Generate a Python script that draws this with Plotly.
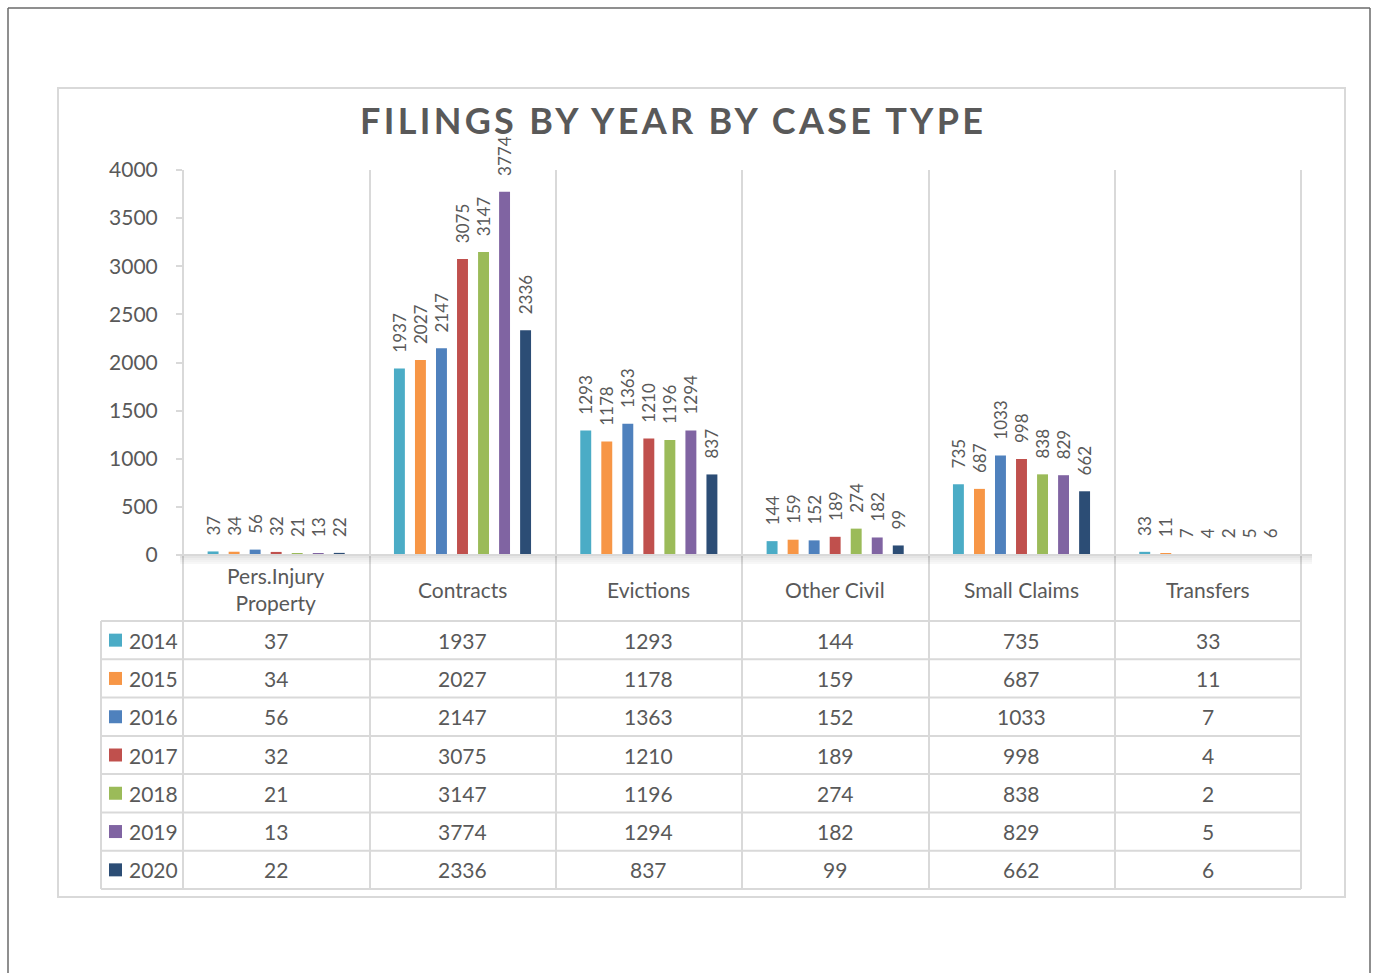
import plotly.graph_objects as go

categories = ["Pers.Injury Property", "Contracts", "Evictions", "Other Civil", "Small Claims", "Transfers"]
category_labels = ["Pers.Injury<br>Property", "Contracts", "Evictions", "Other Civil", "Small Claims", "Transfers"]
years = ["2014", "2015", "2016", "2017", "2018", "2019", "2020"]
v2014 = [37, 1937, 1293, 144, 735, 33]
v2015 = [34, 2027, 1178, 159, 687, 11]
v2016 = [56, 2147, 1363, 152, 1033, 7]
v2017 = [32, 3075, 1210, 189, 998, 4]
v2018 = [21, 3147, 1196, 274, 838, 2]
v2019 = [13, 3774, 1294, 182, 829, 5]
v2020 = [22, 2336, 837, 99, 662, 6]
series = [v2014, v2015, v2016, v2017, v2018, v2019, v2020]
colors = ["#4BACC6", "#F79646", "#4F81BD", "#C0504D", "#9BBB59", "#8064A2", "#2C4D75"]
y_ticks = [0, 500, 1000, 1500, 2000, 2500, 3000, 3500, 4000]
title = "FILINGS BY YEAR BY CASE TYPE"

W, H = 1380, 973
PL, PR, PT, PB = 183, 1301, 170, 555
FONT = "Lato, 'Open Sans', sans-serif"
TXT = "#595959"
GRID = "#D9D9D9"


def px(x):
    return (x - PL) / (PR - PL)


def py(y):
    return (PB - y) / (PB - PT)


fig = go.Figure()
for yr, vals, col in zip(years, series, colors):
    fig.add_trace(go.Bar(
        name=yr, x=categories, y=vals, marker=dict(color=col, line=dict(width=0)),
        text=["\u2002\u00a0" + str(v) for v in vals], textposition="outside",
        textangle=-90, constraintext="none", cliponaxis=False,
        textfont=dict(family=FONT, size=17, color=TXT),
    ))

shapes = []
# outer frame (dark) and inner chart border
shapes.append(dict(type="line", xref="paper", yref="paper", x0=px(8), x1=px(8), y0=py(8), y1=py(980),
                   line=dict(color="#6a6a6a", width=1.5)))
shapes.append(dict(type="line", xref="paper", yref="paper", x0=px(8), x1=px(1370), y0=py(8), y1=py(8),
                   line=dict(color="#6a6a6a", width=1.5)))
shapes.append(dict(type="line", xref="paper", yref="paper", x0=px(1370), x1=px(1370), y0=py(8), y1=py(980),
                   line=dict(color="#6a6a6a", width=1.5)))
shapes.append(dict(type="rect", xref="paper", yref="paper", x0=px(58), x1=px(1345), y0=py(88), y1=py(897),
                   line=dict(color=GRID, width=2)))

# vertical lines (category boundaries) through plot and table
for xb in [183, 370, 556, 742, 929, 1115, 1301]:
    shapes.append(dict(type="line", xref="paper", yref="paper", x0=px(xb), x1=px(xb), y0=py(170), y1=py(889),
                       line=dict(color=GRID, width=2)))
shapes.append(dict(type="line", xref="paper", yref="paper", x0=px(101), x1=px(101), y0=py(621), y1=py(889),
                   line=dict(color=GRID, width=2)))
# table rows
row_tops = [621, 659.3, 697.6, 735.9, 774.1, 812.4, 850.7, 889]
for yb in row_tops:
    shapes.append(dict(type="line", xref="paper", yref="paper", x0=px(101), x1=px(1301), y0=py(yb), y1=py(yb),
                       line=dict(color=GRID, width=2)))
# axis line with soft shadow
for i, a in enumerate([0.10, 0.07, 0.05, 0.03]):
    shapes.append(dict(type="line", xref="paper", yref="paper", x0=px(180), x1=px(1312),
                       y0=py(557 + 2 * i), y1=py(557 + 2 * i), line=dict(color=f"rgba(0,0,0,{a})", width=2)))
shapes.append(dict(type="line", xref="paper", yref="paper", x0=px(177), x1=px(1312), y0=py(555), y1=py(555),
                   line=dict(color=GRID, width=2)))

annotations = []
annotations.append(dict(xref="paper", yref="paper", x=px(673), y=py(120), xanchor="center", yanchor="middle",
                        text='<span style="letter-spacing:3.3px">' + title + '</span>', showarrow=False,
                        font=dict(family=FONT, size=36, color=TXT, weight="bold")))
for cat, lab in zip(categories, category_labels):
    annotations.append(dict(xref="x", yref="paper", x=cat, y=py(589), text=lab, showarrow=False,
                            xanchor="center", yanchor="middle",
                            font=dict(family=FONT, size=21, color=TXT)))
for r, (yr, vals, col) in enumerate(zip(years, series, colors)):
    yc = (row_tops[r] + row_tops[r + 1]) / 2
    shapes.append(dict(type="rect", xref="paper", yref="paper", x0=px(109), x1=px(122),
                       y0=py(yc - 6.5), y1=py(yc + 6.5), fillcolor=col, line=dict(width=0)))
    annotations.append(dict(xref="paper", yref="paper", x=px(127), y=py(yc), text=yr, showarrow=False,
                            xanchor="left", yanchor="middle", font=dict(family=FONT, size=21, color=TXT)))
    for cat, v in zip(categories, vals):
        annotations.append(dict(xref="x", yref="paper", x=cat, y=py(yc), text=str(v), showarrow=False,
                                xanchor="center", yanchor="middle",
                                font=dict(family=FONT, size=21, color=TXT)))

fig.update_layout(
    width=W, height=H, margin=dict(l=PL, r=W - PR, t=PT, b=H - PB, pad=0),
    paper_bgcolor="white", plot_bgcolor="white", showlegend=False,
    barmode="group", bargap=0.21, bargroupgap=0.48,
    font=dict(family=FONT, color=TXT),
    xaxis=dict(showticklabels=False, showgrid=False, zeroline=False, showline=False, ticks=""),
    yaxis=dict(range=[0, 4000], tickvals=y_ticks, showgrid=False, zeroline=False, showline=False,
               ticks="outside", ticklen=6, tickcolor=GRID, tickwidth=2, ticklabelstandoff=14,
               tickfont=dict(family=FONT, size=21, color=TXT)),
    shapes=shapes, annotations=annotations,
)
fig.write_html("out.html", config={"displayModeBar": False},
               post_script="document.body.style.margin='0';document.body.style.overflow='hidden';")
